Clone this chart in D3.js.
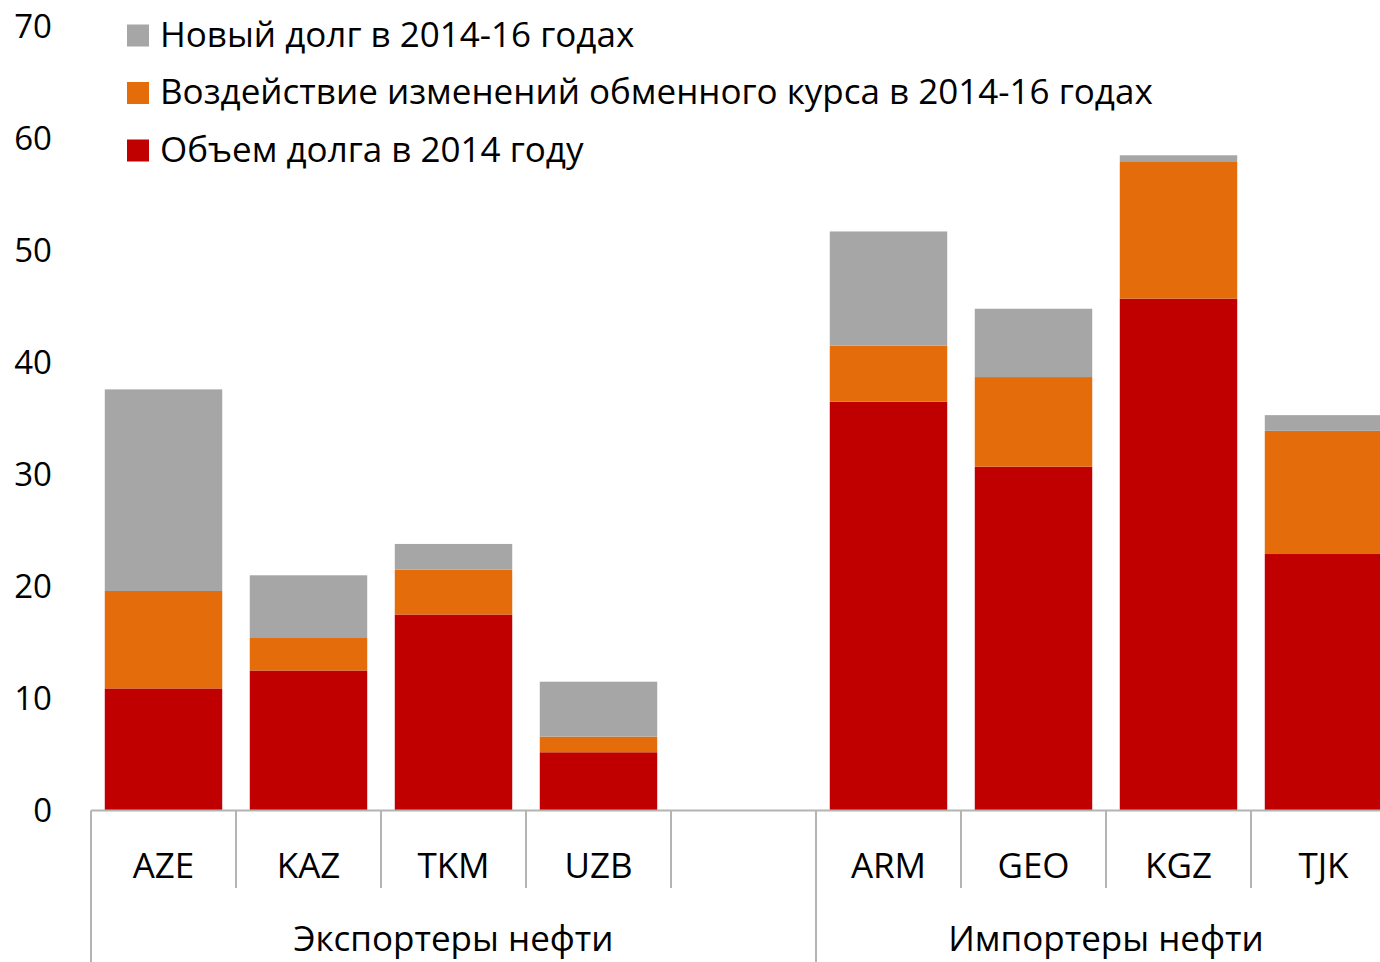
<!DOCTYPE html>
<html>
<head>
<meta charset="utf-8">
<script src="https://d3js.org/d3.v7.min.js"></script>
<style>
  html, body { margin: 0; padding: 0; background: #fff; }
  svg { display: block; font-family: "Open Sans", "Noto Sans", sans-serif; }
</style>
</head>
<body>
<svg id="drawing_region"></svg>
<script>
// categories ('' is the empty slot between the two groups)
const categories = ['AZE', 'KAZ', 'TKM', 'UZB', '', 'ARM', 'GEO', 'KGZ', 'TJK'];
const groupNames = ['Экспортеры нефти', 'Импортеры нефти'];
const groupSizes = [5, 4];

// series values, % of GDP
const debt2014 = [10.9, 12.5, 17.5, 5.2, 0, 36.5, 30.7, 45.7, 22.9];
const fxEffect = [8.7, 2.9, 4.0, 1.4, 0, 5.0, 8.0, 12.2, 11.0];
const newDebt  = [18.0, 5.6, 2.3, 4.9, 0, 10.2, 6.1, 0.6, 1.4];

const seriesNames = [
    'Объем долга в 2014 году',
    'Воздействие изменений обменного курса в 2014-16 годах',
    'Новый долг в 2014-16 годах'
];
const yTicks = [0, 10, 20, 30, 40, 50, 60, 70];

const config = {
    width: 1380,
    height: 962,
    left: 91,
    slot: 145,
    y0: 810.5,
    y70: 26.5,
    colors: ['#c00000', '#e46c0a', '#a6a6a6'],
    fontSize: 33
};

const table = categories.map((c, i) => ({
    cat: c, s0: debt2014[i], s1: fxEffect[i], s2: newDebt[i]
}));

const svg = d3.select('#drawing_region')
    .attr('width', config.width)
    .attr('height', config.height);

const xscale = d3.scaleBand()
    .domain(categories.map((c, i) => i))
    .range([config.left, config.left + config.slot * categories.length])
    .paddingInner(0.19)
    .paddingOuter(0.095);

const yscale = d3.scaleLinear()
    .domain([0, 70])
    .range([config.y0, config.y70]);

const stack = d3.stack().keys(['s0', 's1', 's2']);
const layers = stack(table);

svg.selectAll('g.layer')
    .data(layers)
    .enter()
    .append('g')
    .attr('class', 'layer')
    .attr('fill', (d, i) => config.colors[i])
    .selectAll('rect')
    .data(d => d.map((v, i) => ({ v, i })))
    .enter()
    .append('rect')
    .filter(d => d.v[1] > d.v[0])
    .attr('x', d => xscale(d.i))
    .attr('width', xscale.bandwidth())
    .attr('y', d => yscale(d.v[1]))
    .attr('height', d => yscale(d.v[0]) - yscale(d.v[1]));

// y tick labels
svg.append('g')
    .selectAll('text')
    .data(yTicks)
    .enter()
    .append('text')
    .attr('x', 52)
    .attr('y', d => yscale(d))
    .attr('dy', '0.36em')
    .attr('text-anchor', 'end')
    .attr('font-size', config.fontSize)
    .attr('fill', '#000')
    .text(d => d);

// category axis
const axisColor = '#b4b4b4';
const axis = svg.append('g');
const right = config.left + config.slot * categories.length;

axis.append('line')
    .attr('x1', config.left).attr('x2', right)
    .attr('y1', config.y0).attr('y2', config.y0)
    .attr('stroke', axisColor).attr('stroke-width', 2);

const bounds = d3.range(categories.length + 1).map(i => config.left + i * config.slot);
const groupBounds = [0];
groupSizes.forEach(n => groupBounds.push(groupBounds[groupBounds.length - 1] + n));

axis.selectAll('line.tick')
    .data(bounds)
    .enter()
    .append('line')
    .attr('class', 'tick')
    .attr('x1', d => d).attr('x2', d => d)
    .attr('y1', config.y0)
    .attr('y2', (d, i) => groupBounds.includes(i) ? config.height : 888)
    .attr('stroke', axisColor).attr('stroke-width', 2);

axis.selectAll('text.cat')
    .data(categories)
    .enter()
    .append('text')
    .attr('class', 'cat')
    .attr('x', (d, i) => xscale(i) + xscale.bandwidth() / 2)
    .attr('y', 878)
    .attr('text-anchor', 'middle')
    .attr('font-size', 35)
    .text(d => d);

axis.selectAll('text.group')
    .data(groupNames)
    .enter()
    .append('text')
    .attr('class', 'group')
    .attr('x', (d, i) => config.left + config.slot * (groupBounds[i] + groupBounds[i + 1]) / 2)
    .attr('y', 951)
    .attr('text-anchor', 'middle')
    .attr('font-size', 35)
    .text(d => d);

// legend (top entry = top of stack)
const legendOrder = [2, 1, 0];
const legend = svg.append('g')
    .selectAll('g')
    .data(legendOrder)
    .enter()
    .append('g')
    .attr('transform', (d, i) => `translate(127, ${46.5 + i * 57.5})`);

legend.append('rect')
    .attr('x', 0).attr('y', -22)
    .attr('width', 22).attr('height', 22)
    .attr('fill', d => config.colors[d]);

legend.append('text')
    .attr('x', 33)
    .attr('y', 0)
    .attr('font-size', 35)
    .text(d => seriesNames[d]);
</script>
</body>
</html>
